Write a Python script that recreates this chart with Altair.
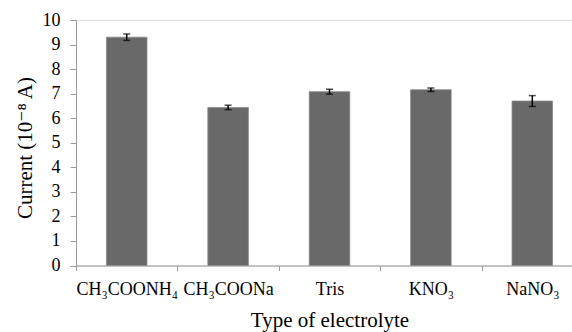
import altair as alt
import pandas as pd

categories = ["CH₃COONH₄", "CH₃COONa", "Tris", "KNO₃", "NaNO₃"]
values = [9.30, 6.44, 7.08, 7.16, 6.70]
errors = [0.13, 0.09, 0.10, 0.07, 0.22]
y_ticks = [0, 1, 2, 3, 4, 5, 6, 7, 8, 9, 10]

df = pd.DataFrame({"cat": categories, "val": values, "err": errors})
df["lo"] = df["val"] - df["err"]
df["hi"] = df["val"] + df["err"]

FONT = "'Liberation Serif', 'Times New Roman', 'DejaVu Serif', serif"
AXIS_COLOR = "#9a9a9a"

xscale = alt.Scale(domain=categories, paddingInner=0, paddingOuter=0, range=[0, 507])
xaxis = alt.Axis(
    title="Type of electrolyte",
    titleFont=FONT, titleFontSize=21, titleFontWeight="normal", titleColor="black",
    titleBaseline="alphabetic", titleY=61,
    labelFont=FONT, labelFontSize=18, labelColor="black", labelAngle=0,
    labelBaseline="alphabetic", labelPadding=24,
    tickBand="extent", tickSize=5, tickColor=AXIS_COLOR, domainColor=AXIS_COLOR,
    grid=False,
)
yscale = alt.Scale(domain=[0, 10], nice=False)
yaxis = alt.Axis(
    values=y_ticks,
    title="Current (10⁻⁸ A)",
    titleFont=FONT, titleFontSize=21, titleFontWeight="normal", titleColor="black",
    titleAngle=-90, titleBaseline="middle", titleAlign="center",
    titleX=-51, titleY=127.5,
    labelFont=FONT, labelFontSize=18, labelColor="black", labelOverlap=False,
    labelPadding=10, tickSize=6, tickColor=AXIS_COLOR, domainColor=AXIS_COLOR,
    grid=False,
)

def X():
    return alt.X("cat:N", scale=xscale, sort=categories, axis=xaxis)

def Y(field):
    return alt.Y(field, scale=yscale, axis=yaxis)

bars = alt.Chart(df).mark_bar(
    color="#696969", stroke="#8a8a8a", strokeWidth=0.8,
    width=alt.RelativeBandSize(0.4),
).encode(x=X(), y=Y("val:Q"))

rule = alt.Chart(df).mark_rule(color="black", strokeWidth=1.5).encode(
    x=X(), y=Y("lo:Q"), y2="hi:Q",
)
cap_lo = alt.Chart(df).mark_tick(color="black", thickness=1.5, size=7, orient="horizontal").encode(
    x=X(), y=Y("lo:Q"),
)
cap_hi = alt.Chart(df).mark_tick(color="black", thickness=1.5, size=7, orient="horizontal").encode(
    x=X(), y=Y("hi:Q"),
)

chart = alt.layer(bars, rule, cap_lo, cap_hi).properties(
    width=496, height=245.5,
    autosize=alt.AutoSizeParams(type="none"),
    padding={"left": 76, "top": 20, "right": 0, "bottom": 66.5},
).configure_view(stroke=None).configure(
    background="white", font=FONT
).configure_axis(labelFont=FONT, titleFont=FONT)

chart.save("out.html", embed_options={"renderer": "svg", "actions": False})
